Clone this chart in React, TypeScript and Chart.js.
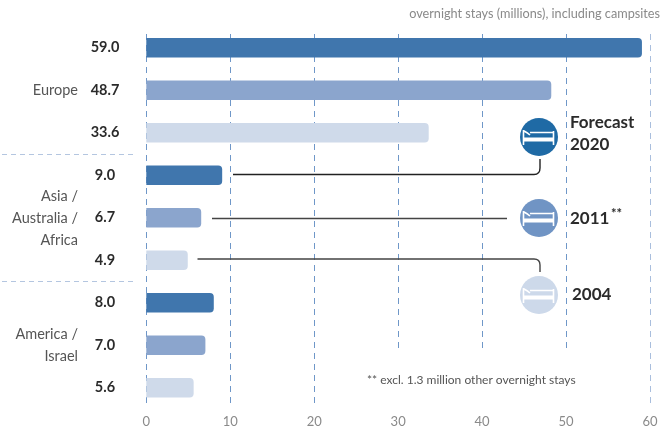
import React, { useEffect, useRef } from "react";
import { Chart, registerables } from "chart.js";

Chart.register(...registerables);

const rowLabels = ["59.0", "48.7", "33.6", "9.0", "6.7", "4.9", "8.0", "7.0", "5.6"];
const xTicks = [0, 10, 20, 30, 40, 50, 60];
const forecast2020 = [59.0, null, null, 9.0, null, null, 8.0, null, null];
const year2011 = [null, 48.2, null, null, 6.5, null, null, 7.0, null];
const year2004 = [null, null, 33.6, null, null, 4.9, null, null, 5.6];
const seriesNames = ["Forecast 2020", "2011", "2004"];
const barColors = ["#4076ad", "#8ba5cd", "#cfdaea"];
const iconColors = ["#1f6aa5", "#7094c4", "#cdd9ea"];

const FONT = "Lato, 'Open Sans', sans-serif";
const TEXT = "#2b2b2b";
const GREY = "#8a8a8a";

function drawBed(ctx: CanvasRenderingContext2D, cx: number, cy: number) {
  ctx.save();
  ctx.strokeStyle = "#fff";
  ctx.fillStyle = "#fff";
  ctx.lineWidth = 1.6;
  ctx.beginPath();
  ctx.moveTo(cx - 15.5, cy - 7);
  ctx.lineTo(cx - 15.5, cy + 8);
  ctx.moveTo(cx + 14.5, cy - 6);
  ctx.lineTo(cx + 14.5, cy + 8);
  ctx.moveTo(cx - 9, cy - 4.5);
  ctx.lineTo(cx + 14.5, cy - 4.5);
  ctx.moveTo(cx - 15, cy - 6);
  ctx.quadraticCurveTo(cx - 11, cy - 4, cx - 9, cy - 2);
  ctx.stroke();
  ctx.fillRect(cx - 15.5, cy + 0.5, 30, 4);
  ctx.restore();
}

const overlay = {
  id: "overlay",
  beforeDatasetsDraw(chart: any) {
    const { ctx, scales } = chart;
    const x = scales.x;
    ctx.save();
    ctx.lineWidth = 1;
    xTicks.forEach((t) => {
      const px = Math.round(x.getPixelForValue(t)) + 0.5;
      const shortLine = t >= 30 && t <= 50;
      ctx.strokeStyle = t === 60 ? "#a9bedd" : "#6f97c8";
      ctx.setLineDash([6, 5]);
      ctx.beginPath();
      ctx.moveTo(px, 34);
      ctx.lineTo(px, shortLine ? 349 : 405);
      ctx.stroke();
    });
    ctx.setLineDash([5, 4]);
    ctx.strokeStyle = "#b4c6e0";
    [154.5, 281.5].forEach((y) => {
      ctx.beginPath();
      ctx.moveTo(2, y);
      ctx.lineTo(133, y);
      ctx.stroke();
    });
    ctx.restore();
  },
  afterDatasetsDraw(chart: any) {
    const { ctx } = chart;
    ctx.save();
    ctx.strokeStyle = "#222";
    ctx.lineWidth = 1.4;
    ctx.setLineDash([]);
    ctx.beginPath();
    ctx.moveTo(233, 174.5);
    ctx.lineTo(534, 174.5);
    ctx.quadraticCurveTo(540, 174.5, 540, 168);
    ctx.lineTo(540, 159);
    ctx.stroke();
    ctx.strokeStyle = "#444";
    ctx.beginPath();
    ctx.moveTo(212, 218.5);
    ctx.lineTo(507, 218.5);
    ctx.stroke();
    ctx.beginPath();
    ctx.moveTo(197.5, 259);
    ctx.lineTo(534, 259);
    ctx.quadraticCurveTo(540, 259, 540, 265);
    ctx.lineTo(540, 272);
    ctx.stroke();

    [137, 218, 295].forEach((cy, i) => {
      ctx.fillStyle = iconColors[i];
      ctx.beginPath();
      ctx.arc(539, cy, 19, 0, Math.PI * 2);
      ctx.fill();
      drawBed(ctx, 539, cy);
    });

    ctx.textBaseline = "middle";
    ctx.fillStyle = "#555";
    ctx.textAlign = "right";
    ctx.font = `14.5px ${FONT}`;
    const groups: [string, number][] = [
      ["Europe", 90], ["Asia /", 196], ["Australia /", 218], ["Africa", 240],
      ["America /", 334], ["Israel", 356],
    ];
    groups.forEach(([s, y]) => ctx.fillText(s, 78, y));

    ctx.fillStyle = GREY;
    ctx.font = `12.7px ${FONT}`;
    ctx.fillText("overnight stays (millions), including campsites", 660, 14);

    ctx.textAlign = "left";
    ctx.fillStyle = "#555";
    ctx.font = `12px ${FONT}`;
    ctx.fillText("** excl. 1.3 million other overnight stays", 367, 380);

    ctx.fillStyle = TEXT;
    ctx.font = `bold 17px ${FONT}`;
    ctx.fillText("Forecast", 570, 123);
    ctx.fillText("2020", 570, 145);
    ctx.fillText("2011", 570, 219);
    ctx.fillText("2004", 572, 295);
    ctx.font = `bold 13px ${FONT}`;
    ctx.fillText("**", 611, 214);
    ctx.restore();
  },
};

export default function App() {
  const ref = useRef<HTMLCanvasElement>(null);
  useEffect(() => {
    document.body.style.margin = "0";
    const chart = new Chart(ref.current!, {
      type: "bar",
      data: {
        labels: rowLabels,
        datasets: [forecast2020, year2011, year2004].map((d, i) => ({
          label: seriesNames[i],
          data: d,
          backgroundColor: barColors[i],
          barThickness: 19,
          borderRadius: { topLeft: 0, bottomLeft: 0, topRight: 4, bottomRight: 4 },
          borderSkipped: false,
        })),
      } as any,
      options: {
        indexAxis: "y",
        responsive: false,
        animation: false,
        layout: { padding: { left: 0, right: 16, top: 26.5, bottom: 0 } },
        plugins: { legend: { display: false }, tooltip: { enabled: false } },
        scales: {
          x: {
            type: "linear",
            stacked: true,
            min: 0,
            max: 60,
            afterFit: (s: any) => {
              s.height = 17;
              s.paddingLeft = 0;
              s.paddingRight = 0;
              s.paddingTop = 0;
              s.paddingBottom = 0;
            },
            afterBuildTicks: (s: any) => { s.ticks = xTicks.map((value) => ({ value })); },
            grid: { display: false, drawTicks: false },
            border: { display: false },
            ticks: { color: GREY, padding: 5, maxRotation: 0, font: { family: FONT, size: 13 } },
          },
          y: {
            type: "category",
            stacked: true,
            afterFit: (s: any) => {
              s.width = 146.3;
              s.paddingTop = 0;
              s.paddingBottom = 0;
              s.paddingLeft = 0;
              s.paddingRight = 0;
            },
            grid: { display: false, drawTicks: false },
            border: { display: false },
            ticks: {
              crossAlign: "center",
              padding: 27,
              color: TEXT,
              font: { family: FONT, size: 14.5, weight: "bold" },
            },
          },
        },
      } as any,
      plugins: [overlay],
    });
    return () => chart.destroy();
  }, []);
  return <canvas ref={ref} width={666} height={426} style={{ display: "block" }} />;
}
